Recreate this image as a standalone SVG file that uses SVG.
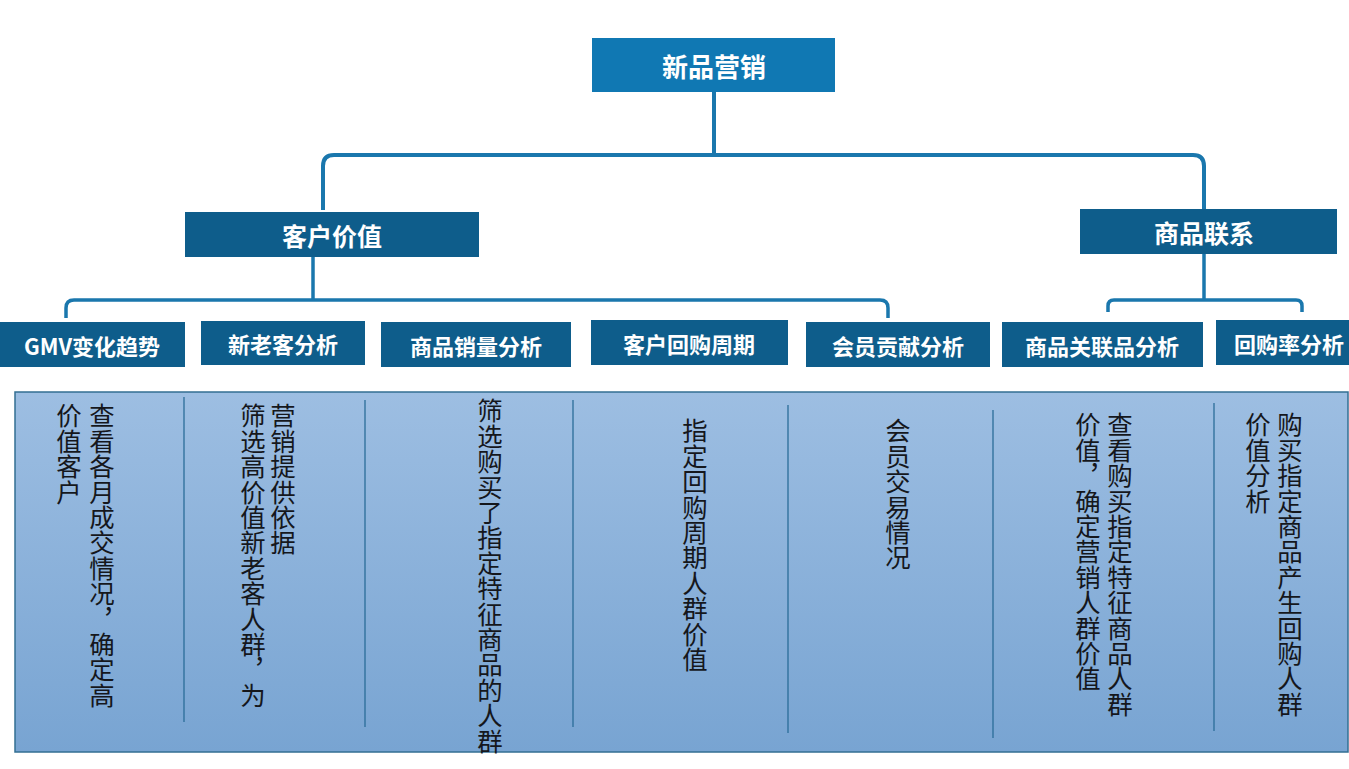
<svg xmlns="http://www.w3.org/2000/svg" width="1349" height="769" viewBox="0 0 1349 769">
  <defs>
    <linearGradient id="panelGrad" x1="0" y1="0" x2="0" y2="1">
      <stop offset="0" stop-color="#9dbee2"/>
      <stop offset="1" stop-color="#78a4d2"/>
    </linearGradient>
    <style>
      .top { fill: #1078b3; }
      .box { fill: #0e5d8b; }
      .t1 { font-family: "Noto Sans CJK SC", "Liberation Sans", sans-serif; font-weight: 700; fill: #ffffff; text-anchor: middle; dominant-baseline: central; }
      .lv1 { font-size: 26px; }
      .lv2 { font-size: 25px; }
      .lv3 { font-size: 22px; }
      .conn { fill: none; stroke: #1a77ad; stroke-linecap: butt; }
      .div { stroke: #2a6c98; stroke-width: 1.3; }
      .vt { font-family: "Noto Sans CJK SC", "Liberation Sans", sans-serif; font-size: 25.4px; fill: #15171c; writing-mode: vertical-rl; text-orientation: upright; }
    </style>
  </defs>
  <rect x="0" y="0" width="1349" height="769" fill="#ffffff"/>

  <g id="connectors">
    <path class="conn" stroke-width="4" d="M714,92 V155"/>
    <path class="conn" stroke-width="4" d="M323,210 V166 Q323,155 334,155 H1193 Q1204,155 1204,166 V210"/>
    <path class="conn" stroke-width="3.5" d="M313,257 V300"/>
    <path class="conn" stroke-width="3.5" d="M66,318 V308 Q66,300 74,300 H880 Q888,300 888,308 V318"/>
    <path class="conn" stroke-width="3.5" d="M1204,254 V300"/>
    <path class="conn" stroke-width="3.5" d="M1108,312 V306 Q1108,300 1114,300 H1296 Q1302,300 1302,306 V312"/>
  </g>

  <g id="node-root">
    <rect class="top" x="592" y="38" width="243" height="54"/>
    <text class="t1 lv1" x="714" y="65">新品营销</text>
  </g>
  <g id="node-customer-value">
    <rect class="box" x="185" y="212" width="294" height="45"/>
    <text class="t1 lv2" x="332" y="235">客户价值</text>
  </g>
  <g id="node-product-link">
    <rect class="box" x="1080" y="209" width="257" height="45"/>
    <text class="t1 lv2" x="1204" y="232">商品联系</text>
  </g>

  <g id="node-gmv">
    <rect class="box" x="0" y="322" width="185" height="45"/>
    <text class="t1 lv3" x="92" y="345">GMV变化趋势</text>
  </g>
  <g id="node-new-old">
    <rect class="box" x="201" y="321" width="164" height="44"/>
    <text class="t1 lv3" x="283" y="343">新老客分析</text>
  </g>
  <g id="node-sales">
    <rect class="box" x="381" y="322" width="190" height="45"/>
    <text class="t1 lv3" x="476" y="345">商品销量分析</text>
  </g>
  <g id="node-cycle">
    <rect class="box" x="591" y="320" width="197" height="45"/>
    <text class="t1 lv3" x="689" y="343">客户回购周期</text>
  </g>
  <g id="node-member">
    <rect class="box" x="806" y="322" width="184" height="45"/>
    <text class="t1 lv3" x="898" y="345">会员贡献分析</text>
  </g>
  <g id="node-assoc">
    <rect class="box" x="1002" y="322" width="201" height="45"/>
    <text class="t1 lv3" x="1102" y="345">商品关联品分析</text>
  </g>
  <g id="node-rate">
    <rect class="box" x="1216" y="320" width="133" height="45"/>
    <text class="t1 lv3" x="1289" y="343">回购率分析</text>
  </g>

  <g id="panel">
    <rect x="15" y="392" width="1333" height="360" fill="url(#panelGrad)" stroke="#336f93" stroke-width="1.5"/>
    <line class="div" x1="184" y1="397" x2="184" y2="722"/>
    <line class="div" x1="365" y1="400" x2="365" y2="727"/>
    <line class="div" x1="573" y1="400" x2="573" y2="727"/>
    <line class="div" x1="788" y1="405" x2="788" y2="733"/>
    <line class="div" x1="993" y1="410" x2="993" y2="738"/>
    <line class="div" x1="1214" y1="403" x2="1214" y2="731"/>
  </g>

  <g id="desc-gmv">
    <text class="vt" x="102" y="403">查看各月成交情况，确定高</text>
    <text class="vt" x="69" y="403">价值客户</text>
  </g>
  <g id="desc-new-old">
    <text class="vt" x="283" y="403">营销提供依据</text>
    <text class="vt" x="253" y="403">筛选高价值新老客人群，为</text>
  </g>
  <g id="desc-sales">
    <text class="vt" x="490" y="398">筛选购买了指定特征商品的人群</text>
  </g>
  <g id="desc-cycle">
    <text class="vt" x="695" y="418">指定回购周期人群价值</text>
  </g>
  <g id="desc-member">
    <text class="vt" x="898" y="418">会员交易情况</text>
  </g>
  <g id="desc-assoc">
    <text class="vt" x="1120" y="412">查看购买指定特征商品人群</text>
    <text class="vt" x="1088" y="412">价值，确定营销人群价值</text>
  </g>
  <g id="desc-rate">
    <text class="vt" x="1290" y="412">购买指定商品产生回购人群</text>
    <text class="vt" x="1258" y="412">价值分析</text>
  </g>
</svg>
